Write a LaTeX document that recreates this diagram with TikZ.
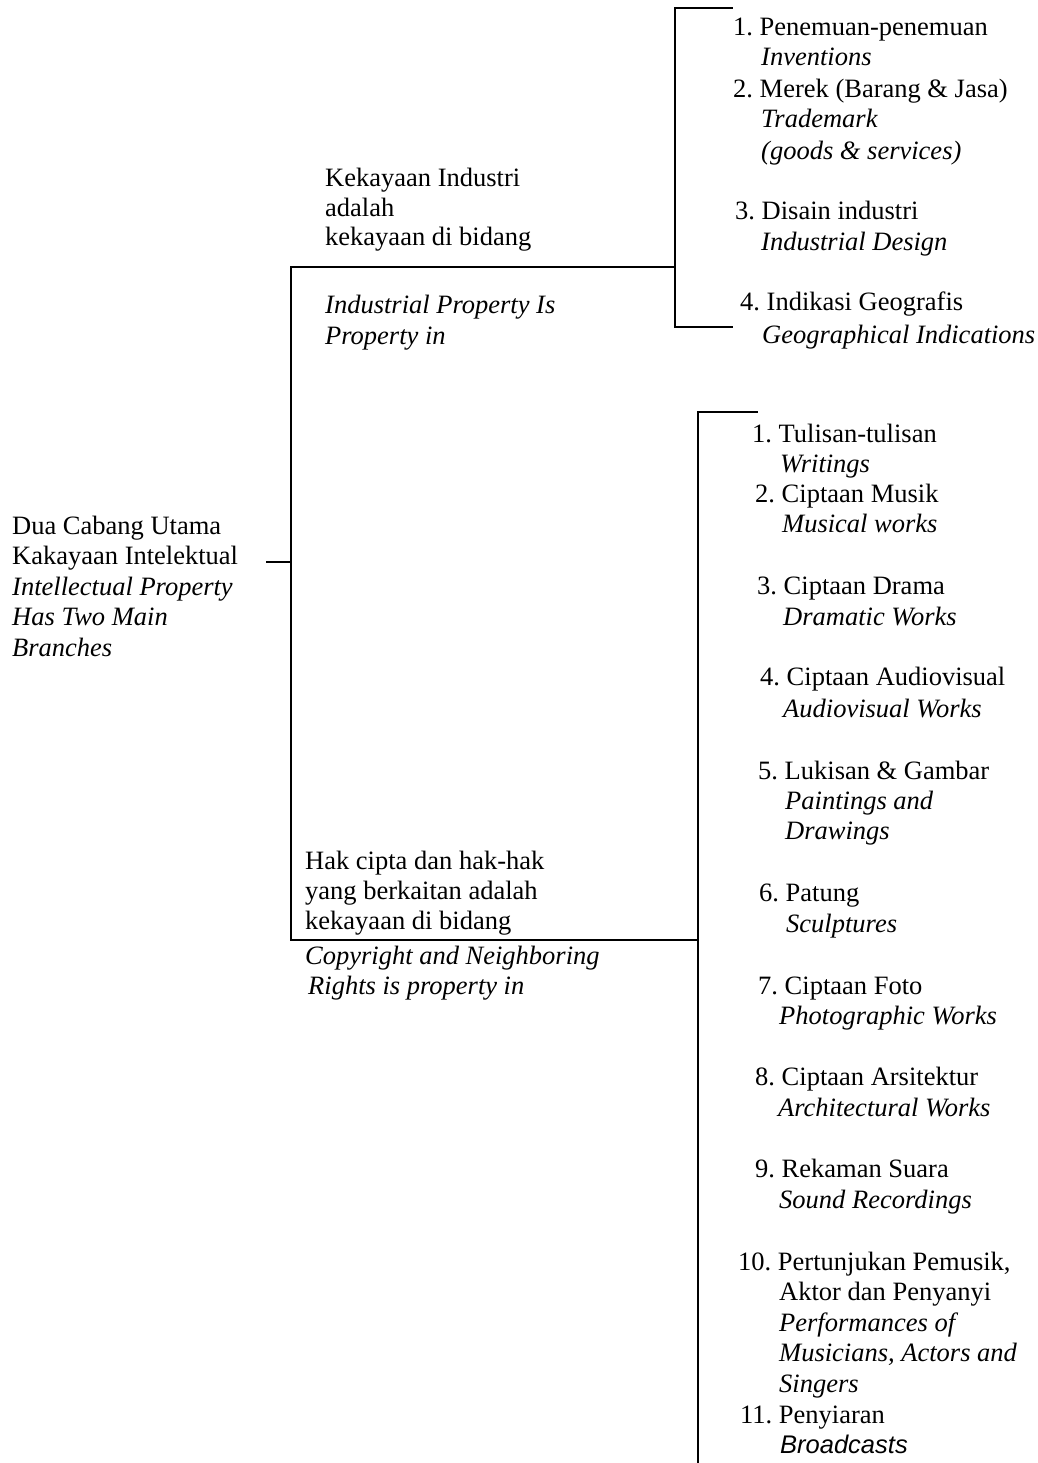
\documentclass[tikz,border=0pt]{standalone}
\usepackage{fontspec}
\setmainfont{Liberation Serif}
\newfontfamily\arialfont{Liberation Sans}
\frenchspacing
\newcommand\txtline[4]{\node[txt] (#1) at (#2,#3) {#4};}
\tikzset{
  txt/.style={anchor=base west, inner sep=0pt, font=\fontsize{26.5}{30.6}\selectfont},
  ln/.style={line width=1.6pt, line cap=rect},
}
\begin{document}
\frenchspacing
\begin{tikzpicture}[x=1pt,y=-1pt]
\useasboundingbox (0,0) rectangle (1037,1463);
% root
\txtline{r1}{12}{534}{Dua Cabang Utama}
\txtline{r2}{12}{564.5}{Kakayaan Intelektual}
\txtline{r3}{12}{595}{\itshape Intellectual Property}
\txtline{r4}{12}{625.5}{\itshape Has Two Main}
\txtline{r5}{12}{656}{\itshape Branches}
% industrial property label
\txtline{k1}{325}{187}{Kekayaan Industri}
\txtline{k2}{325}{216.5}{adalah}
\txtline{k3}{325}{246}{kekayaan di bidang}
\txtline{k4}{325}{313}{\itshape Industrial Property Is}
\txtline{k5}{325}{344}{\itshape Property in}
% copyright label
\txtline{h1}{305}{869}{Hak cipta dan hak-hak}
\txtline{h2}{305}{899}{yang berkaitan adalah}
\txtline{h3}{305}{929}{kekayaan di bidang}
\txtline{h4}{305}{964}{\itshape Copyright and Neighboring}
\txtline{h5}{308}{994}{\itshape Rights is property in}
% industrial items
\txtline{i1a}{733}{36}{1. Penemuan-penemuan}
\txtline{i1b}{761}{66}{\itshape Inventions}
\txtline{i2a}{733}{98}{2. Merek (Barang \& Jasa)}
\txtline{i2b}{761}{128}{\itshape Trademark}
\txtline{i2c}{761}{160}{\itshape (goods \& services)}
\txtline{i3a}{735}{220}{3. Disain industri}
\txtline{i3b}{761}{251}{\itshape Industrial Design}
\txtline{i4a}{740}{310}{4. Indikasi Geografis}
\txtline{i4b}{762}{343}{\itshape Geographical Indications}
% copyright items
\txtline{c1a}{752}{442}{1. Tulisan-tulisan}
\txtline{c1b}{780}{472}{\itshape Writings}
\txtline{c2a}{755}{502}{2. Ciptaan Musik}
\txtline{c2b}{782}{532}{\itshape Musical works}
\txtline{c3a}{757}{594}{3. Ciptaan Drama}
\txtline{c3b}{783}{625}{\itshape Dramatic Works}
\txtline{c4a}{760}{685}{4. Ciptaan Audiovisual}
\txtline{c4b}{783}{717}{\itshape Audiovisual Works}
\txtline{c5a}{758}{779}{5. Lukisan \& Gambar}
\txtline{c5b}{785}{809}{\itshape Paintings and}
\txtline{c5c}{785}{839}{\itshape Drawings}
\txtline{c6a}{759}{901}{6. Patung}
\txtline{c6b}{786}{932}{\itshape Sculptures}
\txtline{c7a}{758}{994}{7. Ciptaan Foto}
\txtline{c7b}{779}{1024}{\itshape Photographic Works}
\txtline{c8a}{755}{1085}{8. Ciptaan Arsitektur}
\txtline{c8b}{778}{1116}{\itshape Architectural Works}
\txtline{c9a}{755}{1177}{9. Rekaman Suara}
\txtline{c9b}{779}{1208}{\itshape Sound Recordings}
\txtline{c10a}{738}{1270}{10. Pertunjukan Pemusik,}
\txtline{c10b}{779}{1300}{Aktor dan Penyanyi}
\txtline{c10c}{779}{1331}{\itshape Performances of}
\txtline{c10d}{779}{1361}{\itshape Musicians, Actors and}
\txtline{c10e}{779}{1392}{\itshape Singers}
\txtline{c11a}{740}{1423}{11. Penyiaran}
\node[txt, font=\arialfont\fontsize{25.5}{30}\selectfont\itshape] (c11b) at (780,1453) {Broadcasts};
% connector points
\coordinate (rootEnd) at (267,562);
\coordinate (jRoot) at (291,562);
\coordinate (jTop) at (291,267);
\coordinate (jBot) at (291,940);
\coordinate (indJ) at (675,267);
\coordinate (indT) at (675,8);
\coordinate (indTe) at (732,8);
\coordinate (indB) at (675,327);
\coordinate (indBe) at (732,327);
\coordinate (cpJ) at (698,940);
\coordinate (cpT) at (698,412);
\coordinate (cpTe) at (757,412);
\coordinate (cpB) at (698,1463);
% connectors
\draw[ln] (rootEnd) -- (jRoot);
\draw[ln] (indJ) -- (jTop) -- (jBot) -- (cpJ);
\draw[ln] (indTe) -- (indT) -- (indB) -- (indBe);
\draw[ln] (cpTe) -- (cpT) -- (cpB);
\end{tikzpicture}
\end{document}
